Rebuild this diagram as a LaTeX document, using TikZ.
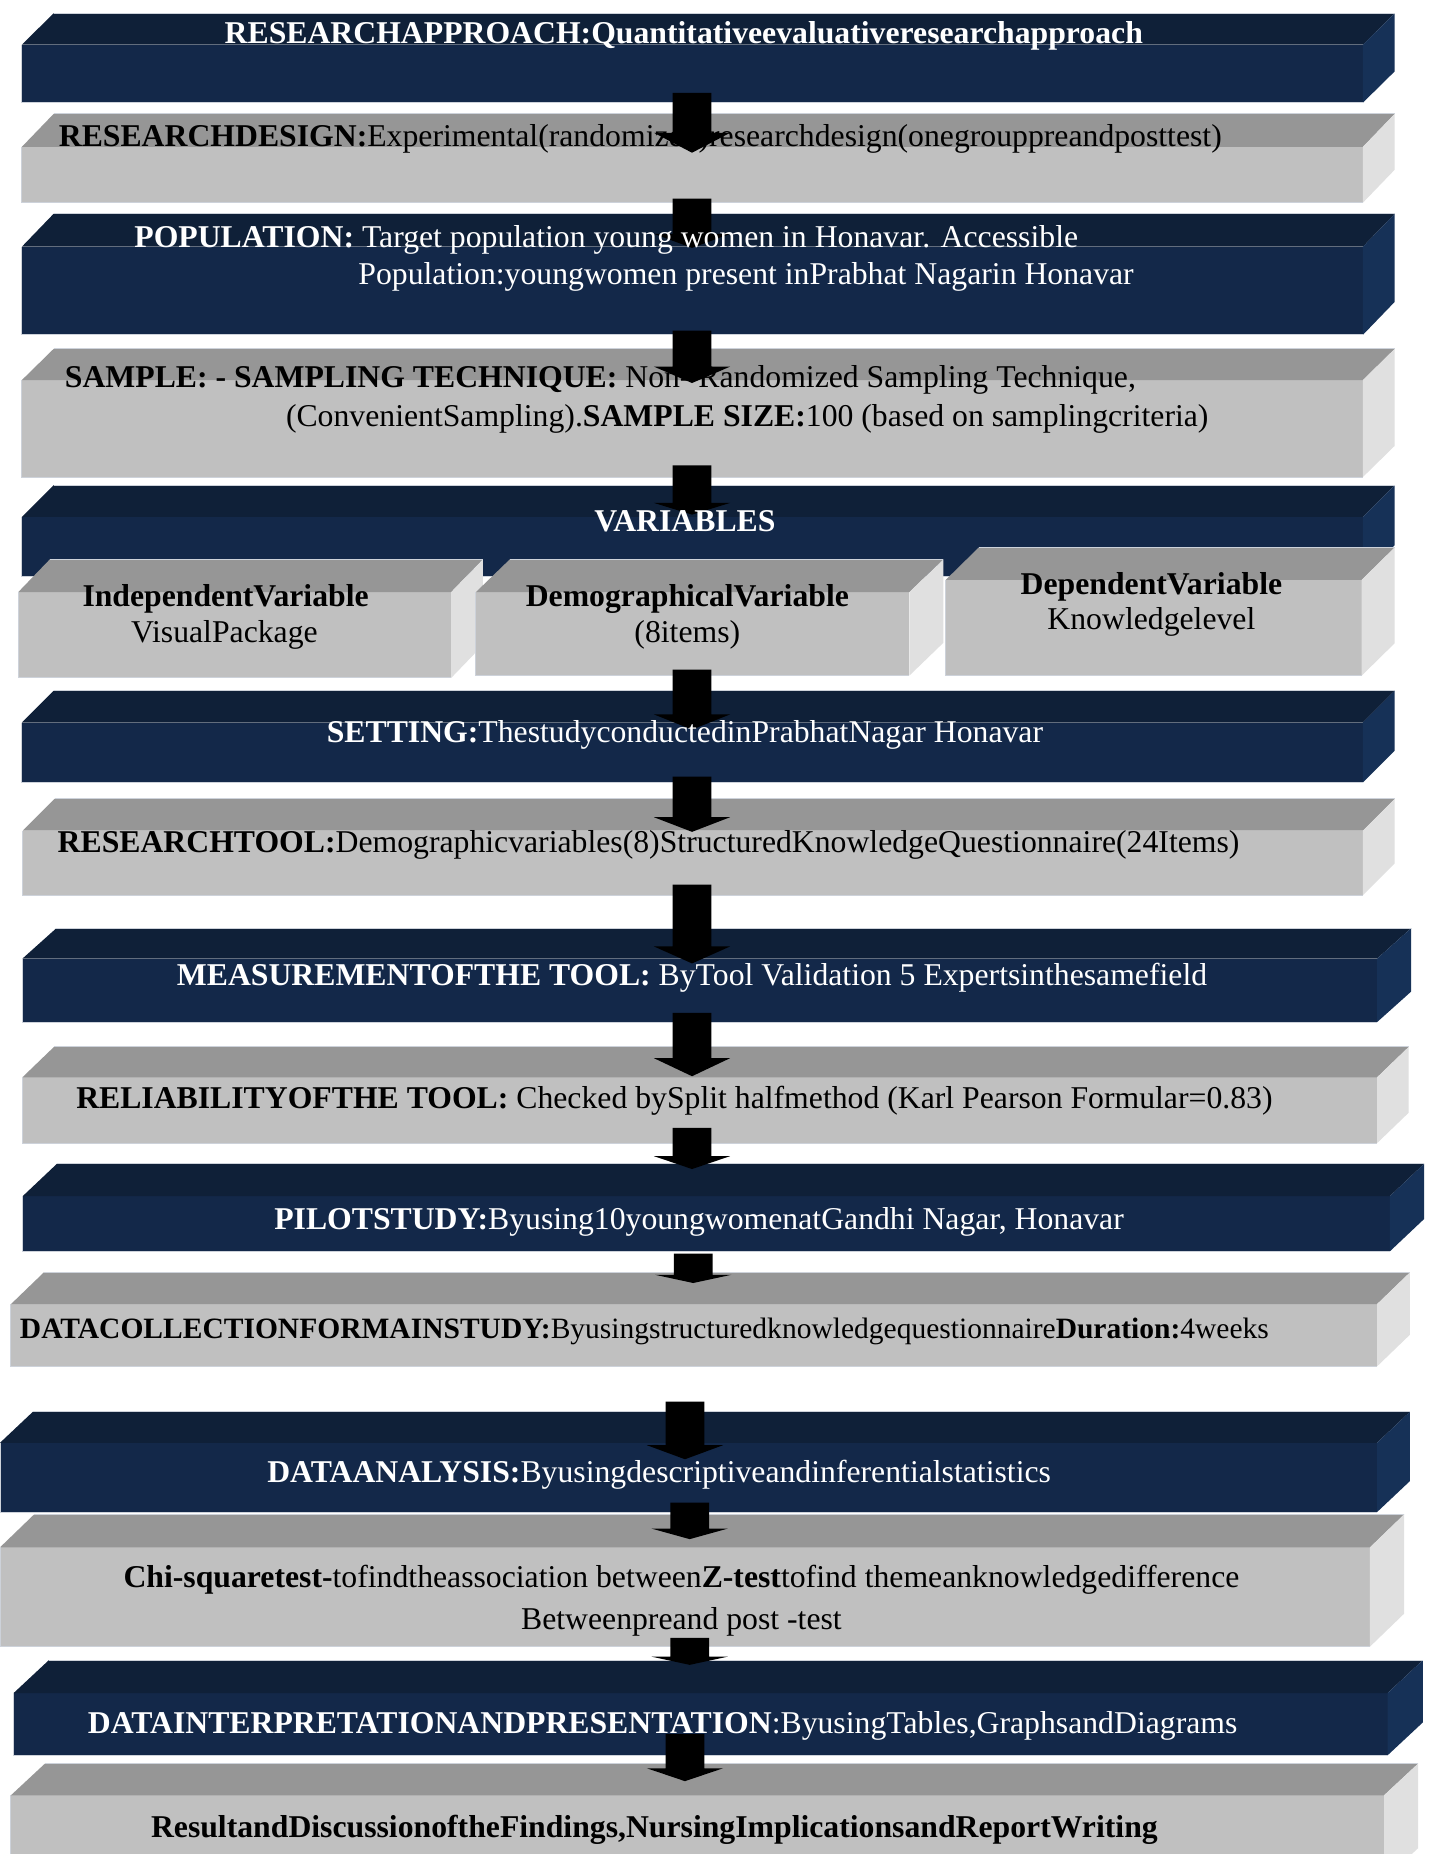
\documentclass[tikz,border=0pt]{standalone}
\usepackage{fontspec}
\setmainfont{Liberation Serif}
\definecolor{dtop}{HTML}{0F2038}
\definecolor{dfront}{HTML}{132849}
\definecolor{dside}{HTML}{163157}
\definecolor{gtop}{HTML}{969696}
\definecolor{gfront}{HTML}{C0C0C0}
\definecolor{gside}{HTML}{E0E0E0}
\definecolor{edgec}{HTML}{CDD2DA}
% #1 kind (d/g), #2 xl, #3 xf, #4 xb, #5 top, #6 front top, #7 bottom
\newcommand\threedbox[7]{%
  \pgfmathsetmacro\bdx{#4-#3}\pgfmathsetmacro\bdy{#6-#5}%
  \fill[#1front] (#2,#6) rectangle (#3,#7);
  \fill[#1top] (#2,#6) -- ({#2+\bdx},#5) -- (#4,#5) -- (#3,#6) -- cycle;
  \fill[#1side] (#3,#6) -- (#4,#5) -- (#4,{#7-\bdy}) -- (#3,#7) -- cycle;
  \draw[edgec,line width=0.8pt] (#2,#6) -- (#2,#7) -- (#3,#7);
  \draw[edgec,line width=0.8pt] ({#2+\bdx},#5) -- (#4,#5);
}
% #1 cx, #2 shaft top, #3 head base, #4 tip
\newcommand\blockarrow[4]{%
  \fill[black] ({#1-16.5},#2) -- ({#1+16.5},#2) -- ({#1+16.5},#3) -- ({#1+32.5},#3)
    -- (#1,#4) -- ({#1-32.5},#3) -- ({#1-16.5},#3) -- cycle;
}
\begin{document}
\begin{tikzpicture}[x=1pt,y=-1pt,
  wt/.style={text=white,anchor=base,inner sep=0pt,font=\fontsize{27}{31}\selectfont},
  bt/.style={text=black,anchor=base,inner sep=0pt,font=\fontsize{27}{31}\selectfont}]
\useasboundingbox (0,0) rectangle (1216,1578);
\clip (0,0) rectangle (1216,1578);
\fill[white] (0,0) rectangle (1216,1578);
% boxes
\threedbox{d}{18.6}{1160}{1187}{11.4}{38}{87.4}
\threedbox{g}{18.6}{1160}{1187}{97}{125}{172.5}
\threedbox{d}{18.6}{1160}{1187}{182}{210}{285}
\threedbox{g}{18.6}{1160}{1187}{297}{323.5}{406}
\threedbox{d}{18.6}{1160}{1187}{413}{440}{491}
\threedbox{g}{15.5}{384}{411}{476}{504}{577}
\threedbox{g}{405}{774}{803}{476}{504}{575}
\threedbox{g}{805}{1159}{1187}{466}{493.5}{575}
\threedbox{d}{18.6}{1160}{1187}{588}{615}{666}
\threedbox{g}{19.4}{1160}{1187}{680}{707}{762}
\threedbox{d}{19}{1172}{1201}{790}{816}{870}
\threedbox{g}{19}{1172}{1199}{891}{917}{973}
\threedbox{d}{19.4}{1183}{1212}{990.6}{1018}{1065}
\threedbox{g}{9.3}{1172}{1200}{1083}{1110}{1163}
\threedbox{d}{0}{1172}{1200}{1201.6}{1228}{1287}
\threedbox{g}{0}{1166}{1195}{1289}{1317}{1401.5}
\threedbox{d}{11.6}{1181}{1211}{1413}{1441}{1494}
\threedbox{g}{9.3}{1178}{1207}{1501}{1528}{1600}
% texts on grey boxes
\node[bt] (t2) at (545,125) {\textbf{RESEARCHDESIGN:}Experimental(randomized)researchdesign(onegrouppreandposttest)};
\node[bt] (t4a) at (511,330) {\textbf{SAMPLE: - SAMPLING TECHNIQUE:} Non- Randomized Sampling Technique,};
\node[bt] (t4b) at (636,363) {(ConvenientSampling).\textbf{SAMPLE SIZE:}100 (based on samplingcriteria)};
\node[bt] (t6a) at (192,516) {\textbf{IndependentVariable}};
\node[bt] (t6b) at (191,547) {VisualPackage};
\node[bt] (t7a) at (585,516) {\textbf{DemographicalVariable}};
\node[bt] (t7b) at (585,547) {(8items)};
\node[bt] (t8a) at (980,506) {\textbf{DependentVariable}};
\node[bt] (t8b) at (980,536) {Knowledgelevel};
\node[bt] (t10) at (552,725.5) {\textbf{RESEARCHTOOL:}Demographicvariables(8)StructuredKnowledgeQuestionnaire(24Items)};
\node[bt] (t12) at (574,943.5) {\textbf{RELIABILITYOFTHE TOOL:} Checked bySplit halfmethod (Karl Pearson Formular=0.83)};
\node[bt] (t14) at (548.5,1139.5) {\resizebox{1063pt}{!}{\textbf{DATACOLLECTIONFORMAINSTUDY:}Byusingstructuredknowledgequestionnaire\textbf{Duration:}4weeks}};
\node[bt] (t16a) at (580,1351.5) {\textbf{Chi-squaretest-}tofindtheassociation between\textbf{Z-test}tofind themeanknowledgedifference};
\node[bt] (t16b) at (580,1387) {Betweenpreand post -test};
\node[bt] (t18) at (557,1564) {\textbf{ResultandDiscussionoftheFindings,NursingImplicationsandReportWriting}};
% arrows
\blockarrow{589}{79}{113}{130}
\blockarrow{589}{169}{199}{211}
\blockarrow{589}{281.4}{312}{326}
\blockarrow{589}{396}{428}{438}
\blockarrow{589}{570}{608}{621}
\blockarrow{589}{661}{695.5}{708}
\blockarrow{589}{753}{805.5}{820}
\blockarrow{589}{862}{900.6}{916}
\blockarrow{589}{960}{984}{995}
\blockarrow{590}{1067}{1085}{1092}
\blockarrow{583}{1193}{1230}{1242}
\blockarrow{587}{1279}{1301}{1310}
\blockarrow{587}{1394}{1410}{1417}
\blockarrow{583}{1476}{1505}{1516}
% texts on dark boxes
\node[wt] (t1) at (582,37) {\textbf{RESEARCHAPPROACH:Quantitativeevaluativeresearchapproach}};
\node[wt] (t3a) at (516,211) {\textbf{POPULATION:} Target population young women in Honavar. Accessible};
\node[wt] (t3b) at (635,242) {Population:youngwomen present inPrabhat Nagarin Honavar};
\node[wt] (t5) at (583,452) {\textbf{VARIABLES}};
\node[wt] (t9) at (583,632) {\textbf{SETTING:}ThestudyconductedinPrabhatNagar Honavar};
\node[wt] (t11) at (589,839) {\textbf{MEASUREMENTOFTHE TOOL:} ByTool Validation 5 Expertsinthesamefield};
\node[wt] (t13) at (595,1046.5) {\textbf{PILOTSTUDY:}Byusing10youngwomenatGandhi Nagar, Honavar};
\node[wt] (t15) at (561,1262) {\textbf{DATAANALYSIS:}Byusingdescriptiveandinferentialstatistics};
\node[wt] (t17) at (564,1475) {\textbf{DATAINTERPRETATIONANDPRESENTATION}:ByusingTables,GraphsandDiagrams};
\end{tikzpicture}
\end{document}
